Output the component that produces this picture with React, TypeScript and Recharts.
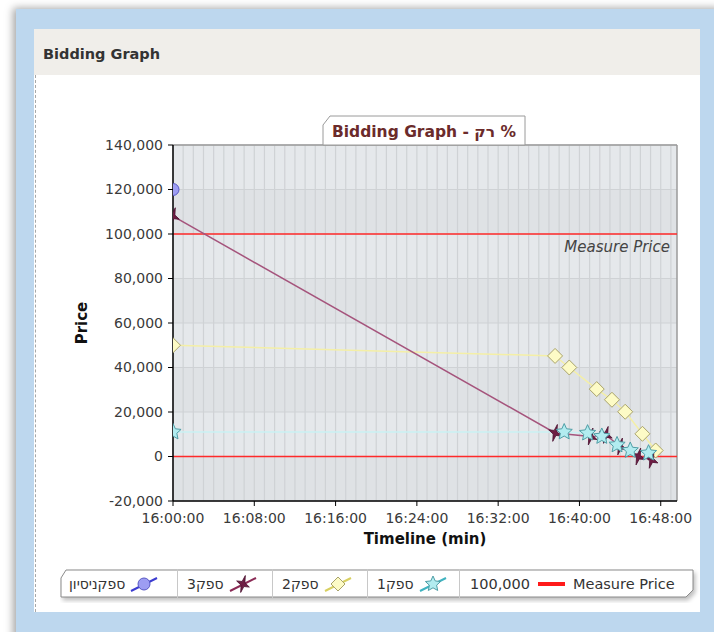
import { LineChart, Line, XAxis, YAxis, CartesianGrid, ReferenceLine, Label } from 'recharts';

// x = minutes after 16:00:00, y = price
const X_TICKS = [0, 8, 16, 24, 32, 40, 48];
const Y_TICKS = [-20000, 0, 20000, 40000, 60000, 80000, 100000, 120000, 140000];
const X_MAX = 49.6;
const MINUTE_LINES = Array.from({ length: 50 }, (_, i) => i);

const trialTimes = [0];
const trialPrices = [120000];

const supplier3Times = [0, 37.6, 41.1, 42.6, 44.0, 45.8, 47.1];
const supplier3Prices = [108000, 10600, 9000, 9700, 4500, 0, -1500];

const supplier2Times = [0, 37.6, 39.0, 41.7, 43.2, 44.5, 46.2, 47.5];
const supplier2Prices = [50000, 45200, 40000, 30300, 25500, 20100, 10200, 2700];

const supplier1Times = [0, 38.5, 40.8, 42.2, 43.7, 45.0, 46.8];
const supplier1Prices = [11000, 11000, 10500, 9000, 5200, 2700, 1500];

const MEASURE_PRICE = 100000;

const FONT = '"DejaVu Sans", sans-serif';

const toPoints = (ts: number[], ps: number[]) => ts.map((t, i) => ({ t, p: ps[i] }));

const fmtTime = (t: number) => `16:${String(t).padStart(2, '0')}:00`;
const fmtPrice = (v: number) => v.toLocaleString('en-US');

// one grid line per minute, placed with the x axis scale
const minuteGrid = ({ xAxis, offset }: any) => {
  if (xAxis && typeof xAxis.scale === 'function') {
    return MINUTE_LINES.map((m) => xAxis.scale(m));
  }
  return MINUTE_LINES.map((m) => offset.left + (m / X_MAX) * offset.width);
};

// star polygon helper
const starPoints = (cx: number, cy: number, ro: number, ri: number, n: number, rot = 0, sx = 1) => {
  const pts: string[] = [];
  for (let i = 0; i < n * 2; i++) {
    const r = i % 2 === 0 ? ro : ri;
    const a = rot + (Math.PI * i) / n - Math.PI / 2;
    pts.push(`${cx + Math.cos(a) * r * sx},${cy + Math.sin(a) * r}`);
  }
  return pts.join(' ');
};

const circleDot = (props: any) => {
  const { cx, cy, index } = props;
  if (cx == null || cy == null) return null;
  return <circle key={`c${index}`} cx={cx} cy={cy} r={6} fill="#9d9df2" stroke="#5858c4" strokeWidth={1} />;
};

const darkStarDot = (props: any) => {
  const { cx, cy, index } = props;
  if (cx == null || cy == null) return null;
  return (
    <polygon key={`d${index}`} points={starPoints(cx, cy, 9, 2.8, 4, 0.35, 0.75)}
      fill="#6e1d43" stroke="#4a1030" strokeWidth={0.8} />
  );
};

const diamondDot = (props: any) => {
  const { cx, cy, index } = props;
  if (cx == null || cy == null) return null;
  return (
    <polygon key={`y${index}`} points={`${cx},${cy - 7.5} ${cx + 7.5},${cy} ${cx},${cy + 7.5} ${cx - 7.5},${cy}`}
      fill="#fdfbc6" stroke="#a9a36a" strokeWidth={1} />
  );
};

const cyanStarDot = (props: any) => {
  const { cx, cy, index } = props;
  if (cx == null || cy == null) return null;
  return (
    <polygon key={`s${index}`} points={starPoints(cx, cy, 8.5, 4, 5)}
      fill="#b2ecf0" stroke="#4f9ea6" strokeWidth={1} />
  );
};

const LegendIcon = ({ kind }: { kind: string }) => {
  const lineColor: Record<string, string> = {
    trial: '#3b3bd0',
    s3: '#8a2a55',
    s2: '#d8d060',
    s1: '#3fb3c0',
  };
  let marker = null;
  if (kind === 'trial') marker = <circle cx={14} cy={10} r={6} fill="#9d9df2" stroke="#5858c4" />;
  if (kind === 's3') marker = <polygon points={starPoints(14, 10, 9, 2.8, 4, 0.35, 0.75)} fill="#6e1d43" stroke="#4a1030" strokeWidth={0.8} />;
  if (kind === 's2') marker = <polygon points="14,3 21,10 14,17 7,10" fill="#fdfbc6" stroke="#a9a36a" />;
  if (kind === 's1') marker = <polygon points={starPoints(14, 10, 8, 3.8, 5)} fill="#b2ecf0" stroke="#4f9ea6" />;
  return (
    <svg width={28} height={20} style={{ display: 'block' }}>
      <line x1={1} y1={17} x2={27} y2={4} stroke={lineColor[kind]} strokeWidth={2} />
      {marker}
    </svg>
  );
};

const legendItems = [
  { label: 'ספקניסיון', kind: 'trial', width: 118 },
  { label: 'ספק3', kind: 's3', width: 95 },
  { label: 'ספק2', kind: 's2', width: 95 },
  { label: 'ספק1', kind: 's1', width: 92 },
];

export default function App() {
  return (
    <div style={{ position: 'absolute', left: 0, top: 0, width: 714, height: 632, background: '#fff', overflow: 'hidden', fontFamily: FONT }}>
      <div style={{ position: 'absolute', left: 16, top: 9, right: -10, bottom: -10, background: '#bdd7ee', boxShadow: '-3px -1px 8px rgba(0,0,0,0.35)' }} />
      <div style={{ position: 'absolute', left: 34, top: 29, width: 666, height: 583, background: '#fff' }}>
        <div style={{ height: 46, background: '#f0eeea', boxSizing: 'border-box', paddingLeft: 9, paddingTop: 2, lineHeight: '46px', fontWeight: 'bold', fontSize: 14.5, color: '#333' }}>
          Bidding Graph
        </div>
        <div style={{ position: 'absolute', left: 1, top: 46, bottom: 0, borderLeft: '1px dashed #a8a8a8' }} />
        <LineChart width={666} height={537} margin={{ top: 70, right: 23, bottom: 61, left: 20 }}>
          <CartesianGrid stroke="#cfd2d5" strokeWidth={1.2} verticalCoordinatesGenerator={minuteGrid}
            horizontalFill={['#e5e8eb', '#dfe2e5']} fillOpacity={1} />
          <XAxis type="number" dataKey="t" domain={[0, X_MAX]} ticks={X_TICKS} tickFormatter={fmtTime}
            allowDataOverflow height={50} tickSize={5} tickMargin={7}
            axisLine={{ stroke: '#000', strokeWidth: 1.5 }} tickLine={{ stroke: '#000' }}
            tick={{ fill: '#3a3a3a', fontSize: 14, fontFamily: FONT }}>
            <Label content={(props: any) => {
              const vb = props.viewBox || { x: 139, y: 426, width: 504, height: 50 };
              return <text x={vb.x + vb.width / 2} y={vb.y + 43} textAnchor="middle" fontWeight="bold" fontSize={15} fontFamily={FONT} fill="#111">Timeline (min)</text>;
            }} />
          </XAxis>
          <YAxis type="number" domain={[-20000, 140000]} ticks={Y_TICKS} tickFormatter={fmtPrice}
            width={119} tickSize={5} tickMargin={5} allowDataOverflow
            axisLine={{ stroke: '#000', strokeWidth: 1.5 }} tickLine={{ stroke: '#000' }}
            tick={{ fill: '#3a3a3a', fontSize: 14, fontFamily: FONT }}>
            <Label content={(props: any) => {
              const vb = props.viewBox || { x: 20, y: 70, width: 119, height: 356 };
              const x = vb.x + 28;
              const y = vb.y + vb.height / 2;
              return <text x={x} y={y} transform={`rotate(-90, ${x}, ${y})`} textAnchor="middle" dominantBaseline="central" fontWeight="bold" fontSize={15} fontFamily={FONT} fill="#111">Price</text>;
            }} />
          </YAxis>
          <ReferenceLine y={140000} stroke="#9a9a9a" strokeWidth={1.5} />
          <ReferenceLine x={X_MAX} stroke="#9a9a9a" strokeWidth={1.5} />
          <ReferenceLine y={MEASURE_PRICE} stroke="#ff2a2a" strokeWidth={1.5}
            label={{ value: 'Measure Price', position: 'insideTopRight', offset: 7, fill: '#444', fontStyle: 'italic', fontSize: 15, fontFamily: FONT }} />
          <ReferenceLine y={0} stroke="#ff2a2a" strokeWidth={1.5} />
          <Line data={toPoints(supplier2Times, supplier2Prices)} dataKey="p" type="linear" stroke="#f4efa6" strokeWidth={1.5}
            dot={diamondDot} activeDot={false} isAnimationActive={false} />
          <Line data={toPoints(supplier3Times, supplier3Prices)} dataKey="p" type="linear" stroke="#a5547c" strokeWidth={1.5}
            dot={darkStarDot} activeDot={false} isAnimationActive={false} />
          <Line data={toPoints(supplier1Times, supplier1Prices)} dataKey="p" type="linear" stroke="#c9f1f4" strokeWidth={1.5}
            dot={cyanStarDot} activeDot={false} isAnimationActive={false} />
          <Line data={toPoints(trialTimes, trialPrices)} dataKey="p" type="linear" stroke="#5858c4" strokeWidth={1.5}
            dot={circleDot} activeDot={false} isAnimationActive={false} />
        </LineChart>
      </div>

      {/* chart title tab */}
      <svg style={{ position: 'absolute', left: 318, top: 112 }} width={215} height={36}>
        <polygon points="12,4 207,4 207,33 5,33 5,13" fill="#fff" stroke="#9a9a9a" strokeWidth={1} />
        <text x={106} y={25} textAnchor="middle" fontWeight="bold" fontSize={15.5} fontFamily={FONT} fill="#6b2b2b">Bidding Graph - רק %</text>
      </svg>

      {/* legend */}
      <div style={{ position: 'absolute', left: 60, top: 569, width: 634, height: 29 }}>
        <svg style={{ position: 'absolute', left: 0, top: 0 }} width={640} height={34}>
          <polygon points="6,1 633,1 633,21 626,28 1,28 1,9" fill="#fff" stroke="#8a8a8a" strokeWidth={1}
            style={{ filter: 'drop-shadow(2px 3px 2px rgba(0,0,0,0.25))' }} />
        </svg>
        <div style={{ position: 'absolute', left: 0, top: 0, height: 29, display: 'flex', alignItems: 'center', fontSize: 14, color: '#333' }}>
          {legendItems.map((it) => (
            <div key={it.kind} style={{ width: it.width, height: 29, boxSizing: 'border-box', borderRight: '1px solid #c8c8c8', display: 'flex', alignItems: 'center', paddingLeft: 9, gap: 5 }}>
              <span>{it.label}</span>
              <LegendIcon kind={it.kind} />
            </div>
          ))}
          <div style={{ width: 233, height: 29, display: 'flex', alignItems: 'center', paddingLeft: 10, gap: 8, fontSize: 14.5 }}>
            <span>{fmtPrice(MEASURE_PRICE)}</span>
            <span style={{ display: 'inline-block', width: 27, height: 4, background: '#ff1a1a' }} />
            <span>Measure Price</span>
          </div>
        </div>
      </div>
    </div>
  );
}
